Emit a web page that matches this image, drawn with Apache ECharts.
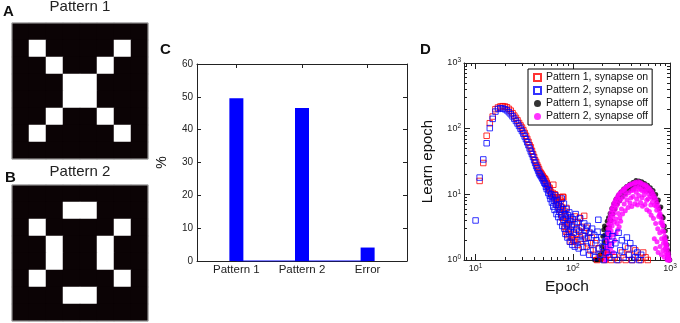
<!DOCTYPE html>
<html>
<head>
<meta charset="utf-8">
<script src="https://cdn.jsdelivr.net/npm/echarts@6/dist/echarts.min.js"></script>
<style>
  html, body { margin: 0; padding: 0; background: #fff; }
  #chart { width: 680px; height: 323px; }
</style>
</head>
<body>
<div id="chart"></div>
<script>
const FONT = "'Liberation Sans', Arial, sans-serif";

// A / B: 8x8 patterns, 1 = white pixel
const pattern1 = [
  [0,0,0,0,0,0,0,0],
  [0,1,0,0,0,0,1,0],
  [0,0,1,0,0,1,0,0],
  [0,0,0,1,1,0,0,0],
  [0,0,0,1,1,0,0,0],
  [0,0,1,0,0,1,0,0],
  [0,1,0,0,0,0,1,0],
  [0,0,0,0,0,0,0,0]
];
const pattern2 = [
  [0,0,0,0,0,0,0,0],
  [0,0,0,1,1,0,0,0],
  [0,1,0,0,0,0,1,0],
  [0,0,1,0,0,1,0,0],
  [0,0,1,0,0,1,0,0],
  [0,1,0,0,0,0,1,0],
  [0,0,0,1,1,0,0,0],
  [0,0,0,0,0,0,0,0]
];

// C: recall percentages
const barCategories = ["Pattern 1", "Pattern 2", "Error"];
const barValues = [49.6, 46.6, 4.1];

// D: [epoch, learn epoch count]
const p1On = [[11,16],[12,30],[13,78],[14,121],[15,153],[16,198],[17,210],[18,218],[19,220],[20,218],
  [21,212],[22,200],[23,188],[24,172],[25,158],[26,146],[27,134],[28,122],[29,112],[30,104],
  [31,95],[32,86],[33,78],[34,70],[35,63],[36,56],[37,52],[38,46],[39,41],[40,37],[41,33],[42,31],
  [43,28],[44,26],[45,24],[46,22],[47,21],[48,20],[49,19],[50,18],[51,17.5],[52,17],[53,16],[54,15],
  [55,14],[56,13],[57,12],[58,12.5],[59,11],[60,10],[62,10.5],[63,14],[64,9],[65,10],[66,9.8],
  [67,8.2],[68,7],[69,9],[70,8.6],[71,6.5],[72,7.5],[73,5.8],[74,9],[75,8],[76,5],[77,6.3],[78,4.4],
  [79,9.2],[80,9],[81,3.8],[82,5.6],[83,3.2],[84,4.7],[85,2.7],[86,6.2],[87,3.5],[88,2.4],[89,4.2],
  [90,3],[92,2.5],[94,4.1],[95,1.9],[97,3.4],[99,2.2],[101,2],[103,1.9],[105,4.6],[107,2.5],[110,3.7],
  [112,1.7],[115,2.8],[118,4.4],[120,2.1],[124,3.2],[127,1.6],[131,4.7],[134,2.3],[138,3.1],[142,1.8],
  [147,2.6],[152,1.4],[157,2.2],[163,1.2],[170,1.8],[178,1],[186,1.5],[195,1.1],[205,1.3],[215,1],
  [230,1.2],[248,1],[270,1.1],[295,1],[320,1.3],[350,1],[370,1.5],[380,1.2],[410,1],[440,1.4],[470,1.1],
  [500,1],[530,1.3],[560,1.1],[590,1]];

const p2On = [[10,4],[11,18],[12,34],[13,60],[14,102],[15,141],[16,182],[17,200],[18,205],[19,203],
  [20,198],[21,190],[22,178],[23,166],[24,154],[25,142],[26,131],[27,120],[28,110],[29,100],[30,92],
  [31,84],[32,76],[33,69],[34,62],[35,56],[36,50],[37,45],[38,41],[39,37],[40,33],[41,30],[42,27],
  [43,25],[44,23],[45,21],[46,20],[47,19],[48,18],[49,17],[50,16],[51,15],[52,14.5],[53,13],[54,12],
  [55,13.5],[56,10.5],[57,11.5],[58,9.5],[59,8.5],[60,10],[61,7.5],[62,9],[63,6.5],[64,8],[65,5.8],
  [66,9.6],[67,7],[68,5],[69,8.2],[70,6.2],[71,4.5],[72,7],[73,5.4],[74,3.8],[75,6.5],[76,4.8],
  [77,8.6],[78,3.3],[79,5.9],[80,4.1],[81,7.2],[82,3],[83,5],[84,2.5],[85,4.4],[86,6],[87,3.4],
  [88,2.2],[89,4.8],[90,3.6],[91,2.7],[92,5.3],[93,1.9],[94,3.9],[95,2.8],[96,4.5],[97,2.2],[98,3.2],
  [99,1.7],[100,4.2],[102,2.6],[104,3.5],[105,1.6],[107,5],[109,2.9],[111,2],[113,3.8],[115,1.5],
  [117,2.7],[119,4.3],[121,1.9],[124,3.1],[126,2.4],[128,1.3],[131,3.6],[133,2.1],[136,2.8],[139,1.6],
  [142,3.3],[145,2.2],[148,1.2],[151,2.6],[155,1.8],[158,3],[162,1.4],[166,2.4],[170,1.1],[175,2],
  [180,2.7],[183,4.1],[185,1.5],[190,1.2],[196,2.2],[202,1.6],[208,1],[215,1.9],[222,1.3],[230,2.5],
  [238,1.1],[246,1.7],[255,2.3],[264,1.2],[274,1.8],[285,1],[296,2.6],[308,1.4],[320,2],[333,1.1],
  [346,1.6],[360,2.2],[375,1.2],[390,1.8],[406,1],[423,1.5],[440,1.1],[460,1.3],[482,1],[505,1.2]];

const p1Off = [[168,1],[175,1],[182,1],[190,1.2],[196,1],[201,1.6],[204,2.3],[206,1.3],[208,2.9],
  [210,1.9],[212,3.3],[214,2.4],[217,1.5],[220,3.1],[223,2],[226,3.9],[229,2.7],[233,4.4],[237,3.2],
  [242,5.1],[247,4],[252,6.1],[258,5],[264,7.2],[271,6],[278,8.4],[286,7.1],[294,9.6],[303,8],
  [313,10.9],[323,9.2],[334,12.1],[346,10.3],[358,13.2],[371,11.5],[385,14.2],[400,12.4],[415,15.1],
  [431,13],[447,16.2],[463,13.9],[479,15.9],[496,14.3],[513,15.5],[531,12.9],[549,14.6],[568,12.1],
  [587,13.7],[607,11.3],[627,12.6],[648,10.2],[669,11.4],[691,8.9],[713,9.9],[736,7.6],[759,8.2],
  [782,6.1],[805,6.4],[828,4.6],[851,4.4],[873,3.3],[895,2.8],[916,2.2],[935,1.7],[952,1.4],
  [968,1.2],[982,1],[995,1]];

const p2Off = [[216,1],[218,1.2],[219,1],[221,1.6],[222,1.3],[224,2.1],[225,1.5],[227,2.6],[228,1.9],
  [230,3],[231,2.2],[233,1.7],[234,3.5],[236,2.6],[238,4.1],[239,3],[241,2.2],[243,4.6],[244,3.6],
  [246,5.2],[248,2.8],[250,4.1],[252,5.8],[254,3.3],[256,6.3],[258,4.7],[260,2.4],[262,7],[265,5.2],
  [267,3.8],[269,7.6],[272,5.9],[275,8.1],[277,4.2],[280,6.6],[283,8.8],[286,3.6],[289,7.2],[292,9.4],
  [295,5.1],[298,10],[302,7.9],[305,4.4],[309,10.6],[313,8.4],[317,6],[321,11.2],[325,5],[329,9.1],
  [333,11.8],[338,7.1],[342,12.3],[347,5.6],[351,9.8],[356,12.8],[361,8.2],[366,13.3],[371,6.3],
  [376,10.6],[382,13.7],[388,7.4],[393,14.1],[399,11.3],[405,6.5],[411,14.5],[417,9.3],[423,12.2],
  [430,14.9],[436,7.2],[443,15.3],[449,10.8],[456,13.6],[463,6.9],[470,15.6],[477,9.6],[484,12.9],
  [491,15.2],[498,7.5],[506,14.8],[513,11.4],[521,6.6],[529,14.3],[537,9.8],[545,13.4],[553,7],
  [561,13.9],[569,11],[577,5.8],[586,13.1],[595,8.6],[604,12.4],[613,5.5],[622,11.8],[631,9.3],
  [640,4.8],[649,11],[658,7.6],[667,10.2],[676,4.3],[685,9.4],[694,6.8],[703,8.7],[712,3.6],[721,8],
  [730,5.7],[739,7.2],[748,3],[757,6.4],[766,4.6],[775,5.7],[784,2.6],[793,5],[802,3.7],[811,4.4],
  [820,2.1],[829,3.8],[838,2.8],[847,3.3],[856,1.8],[865,2.7],[874,2.1],[883,2.3],[892,1.5],[901,2],
  [910,1.6],[919,1.7],[928,1.2],[937,1.5],[946,1.1],[955,1.3],[964,1],[972,1.1],[980,1],[988,1],
  [345,10.9],[420,11.6],[480,11.9],[540,11.2],[600,10.1],[660,8.8],[720,6.6],[780,4.9],[840,3.4],
  [900,1.8],[960,1.2],[226,1.1],[235,1.3],[245,1.5],[253,1.8],[261,1.3],[270,2],[279,2.5],[290,2.9],
  [300,3.2],[311,3.9],[395,8.8],[455,8.4],[515,8.9],[575,8.1],[635,6.9],[440,12.4],[500,12.1],
  [560,11.6],[690,2.1],[710,1.5],[735,1.9],[755,1.3],[790,1.6],[815,1.2],[845,1.4],[875,1.1],
  [905,1.3],[935,1]];

const logMajorX = [10, 100, 1000];
const logMinorX = [8, 9, 20, 30, 40, 50, 60, 70, 80, 90, 200, 300, 400, 500, 600, 700, 800, 900];
const logMajorY = [1, 10, 100, 1000];
const logMinorY = [2, 3, 4, 5, 6, 7, 8, 9, 20, 30, 40, 50, 60, 70, 80, 90, 200, 300, 400, 500, 600, 700, 800, 900];

const toCells = (pat) => {
  const out = [];
  pat.forEach((row, r) => row.forEach((v, c) => out.push([c, r, v])));
  return out;
};
const idx8 = [0,1,2,3,4,5,6,7];

const AX = "#222";
const pow10Label = (v) => "{b|10}{s|" + Math.round(Math.log10(v)) + "}";
const powRich = {
  b: { fontSize: 9, fontFamily: FONT, color: "#222" },
  s: { fontSize: 6.5, fontFamily: FONT, color: "#222", verticalAlign: "top", padding: [0, 0, 5, 0] }
};

function frameAxis(extra) {
  return Object.assign({
    axisLine: { show: true, onZero: false, lineStyle: { color: AX, width: 1 } },
    splitLine: { show: false },
    axisLabel: { show: false }
  }, extra);
}

const chart = echarts.init(document.getElementById("chart"));
const option = {
  animation: false,
  backgroundColor: "#fff",
  textStyle: { fontFamily: FONT },
  grid: [
    { left: 12, top: 23, width: 136, height: 136, show: true, z: 10, borderColor: "#aaa", borderWidth: 1, backgroundColor: "transparent" },
    { left: 12, top: 185, width: 136, height: 136, show: true, z: 10, borderColor: "#aaa", borderWidth: 1, backgroundColor: "transparent" },
    { left: 197, top: 64, width: 210, height: 197 },
    { left: 464, top: 63, width: 206, height: 197 }
  ],
  visualMap: {
    type: "piecewise", show: false, seriesIndex: [0, 1], dimension: 2,
    pieces: [{ value: 0, color: "#0b0305" }, { value: 1, color: "#ffffff" }]
  },
  xAxis: [
    { gridIndex: 0, type: "category", data: idx8, show: false },
    { gridIndex: 1, type: "category", data: idx8, show: false },
    frameAxis({ gridIndex: 2, type: "value", min: 0.4, max: 3.6, position: "bottom",
      axisTick: { inside: true, length: 4, customValues: [1, 2, 3], lineStyle: { color: AX } },
      axisLabel: { show: true, customValues: [1, 2, 3], formatter: (v) => barCategories[Math.round(v) - 1],
        fontSize: 11.5, color: "#222", margin: 3 } }),
    frameAxis({ gridIndex: 2, type: "value", min: 0.4, max: 3.6, position: "top",
      axisTick: { inside: true, length: 4, customValues: [1, 2, 3], lineStyle: { color: AX } } }),
    frameAxis({ gridIndex: 3, type: "log", min: 7.6, max: 1000, position: "bottom",
      axisTick: { inside: true, length: 6, customValues: logMajorX, lineStyle: { color: AX } },
      axisLabel: { show: true, customValues: logMajorX, formatter: pow10Label, rich: powRich, margin: 3 },
      name: "Epoch", nameLocation: "middle", nameGap: 13,
      nameTextStyle: { fontSize: 15.5, color: "#111", fontFamily: FONT } }),
    frameAxis({ gridIndex: 3, type: "log", min: 7.6, max: 1000, position: "bottom",
      axisLine: { show: false },
      axisTick: { inside: true, length: 3, customValues: logMinorX, lineStyle: { color: AX } } }),
    frameAxis({ gridIndex: 3, type: "log", min: 7.6, max: 1000, position: "top",
      axisTick: { inside: true, length: 6, customValues: logMajorX, lineStyle: { color: AX } } }),
    frameAxis({ gridIndex: 3, type: "log", min: 7.6, max: 1000, position: "top",
      axisLine: { show: false },
      axisTick: { inside: true, length: 3, customValues: logMinorX, lineStyle: { color: AX } } })
  ],
  yAxis: [
    { gridIndex: 0, type: "category", data: idx8, inverse: true, show: false },
    { gridIndex: 1, type: "category", data: idx8, inverse: true, show: false },
    frameAxis({ gridIndex: 2, type: "value", min: 0, max: 60, interval: 10, position: "left",
      axisTick: { inside: true, length: 4, lineStyle: { color: AX } },
      axisLabel: { show: true, fontSize: 10, color: "#222", margin: 4 },
      name: "%", nameLocation: "middle", nameGap: 28, nameRotate: 90,
      nameTextStyle: { fontSize: 14, color: "#111", fontFamily: FONT } }),
    frameAxis({ gridIndex: 2, type: "value", min: 0, max: 60, interval: 10, position: "right",
      axisTick: { inside: true, length: 4, lineStyle: { color: AX } } }),
    frameAxis({ gridIndex: 3, type: "log", min: 1, max: 1000, position: "left",
      axisTick: { inside: true, length: 6, customValues: logMajorY, lineStyle: { color: AX } },
      axisLabel: { show: true, customValues: logMajorY, formatter: pow10Label, rich: powRich, margin: 3 },
      name: "Learn epoch", nameLocation: "middle", nameGap: 29, nameRotate: 90,
      nameTextStyle: { fontSize: 15, color: "#111", fontFamily: FONT } }),
    frameAxis({ gridIndex: 3, type: "log", min: 1, max: 1000, position: "left",
      axisLine: { show: false },
      axisTick: { inside: true, length: 3, customValues: logMinorY, lineStyle: { color: AX } } }),
    frameAxis({ gridIndex: 3, type: "log", min: 1, max: 1000, position: "right",
      axisTick: { inside: true, length: 6, customValues: logMajorY, lineStyle: { color: AX } } }),
    frameAxis({ gridIndex: 3, type: "log", min: 1, max: 1000, position: "right",
      axisLine: { show: false },
      axisTick: { inside: true, length: 3, customValues: logMinorY, lineStyle: { color: AX } } })
  ],
  legend: {
    data: ["Pattern 1, synapse on", "Pattern 2, synapse on", "Pattern 1, synapse off", "Pattern 2, synapse off"],
    orient: "vertical", left: 528, top: 69,
    itemWidth: 7, itemHeight: 7, itemGap: 2,
    padding: [3, 4, 3, 5],
    borderColor: "#000", borderWidth: 1, backgroundColor: "#fff", borderRadius: 0,
    textStyle: { fontSize: 10.5, color: "#111", fontFamily: FONT }
  },
  graphic: [
    { type: "text", left: 3, top: 4, style: { text: "A", font: "bold 15px " + FONT, fill: "#111" } },
    { type: "text", left: 5, top: 170, style: { text: "B", font: "bold 15px " + FONT, fill: "#111" } },
    { type: "text", left: 160, top: 42, style: { text: "C", font: "bold 15px " + FONT, fill: "#111" } },
    { type: "text", left: 420, top: 42, style: { text: "D", font: "bold 15px " + FONT, fill: "#111" } },
    { type: "text", x: 80, y: 7, style: { text: "Pattern 1", font: "15px " + FONT, fill: "#222", align: "center", verticalAlign: "middle" } },
    { type: "text", x: 80, y: 172, style: { text: "Pattern 2", font: "15px " + FONT, fill: "#222", align: "center", verticalAlign: "middle" } }
  ],
  series: [
    { type: "heatmap", xAxisIndex: 0, yAxisIndex: 0, data: toCells(pattern1) },
    { type: "heatmap", xAxisIndex: 1, yAxisIndex: 1, data: toCells(pattern2) },
    { type: "bar", xAxisIndex: 2, yAxisIndex: 2, barWidth: 14,
      data: barValues.map((v, i) => [i + 1, v]), itemStyle: { color: "#0000ff" } },
    { type: "line", xAxisIndex: 2, yAxisIndex: 2, symbol: "none",
      data: barValues.map((v, i) => [i + 1, 0]), lineStyle: { color: "#0000ff", width: 1 } },
    { name: "Pattern 1, synapse off", type: "scatter", xAxisIndex: 4, yAxisIndex: 4,
      symbol: "circle", symbolSize: 5, data: p1Off, itemStyle: { color: "#000" } },
    { name: "Pattern 2, synapse off", type: "scatter", xAxisIndex: 4, yAxisIndex: 4,
      symbol: "circle", symbolSize: 5, data: p2Off, itemStyle: { color: "#ff00ff" } },
    { name: "Pattern 1, synapse on", type: "scatter", xAxisIndex: 4, yAxisIndex: 4,
      symbol: "rect", symbolSize: 5.5, data: p1On,
      itemStyle: { color: "rgba(255,255,255,0)", borderColor: "#ff0000", borderWidth: 1 } },
    { name: "Pattern 2, synapse on", type: "scatter", xAxisIndex: 4, yAxisIndex: 4,
      symbol: "rect", symbolSize: 5.5, data: p2On,
      itemStyle: { color: "rgba(255,255,255,0)", borderColor: "#0000ff", borderWidth: 1 } }
  ]
};
chart.setOption(option);
</script>
</body>
</html>
